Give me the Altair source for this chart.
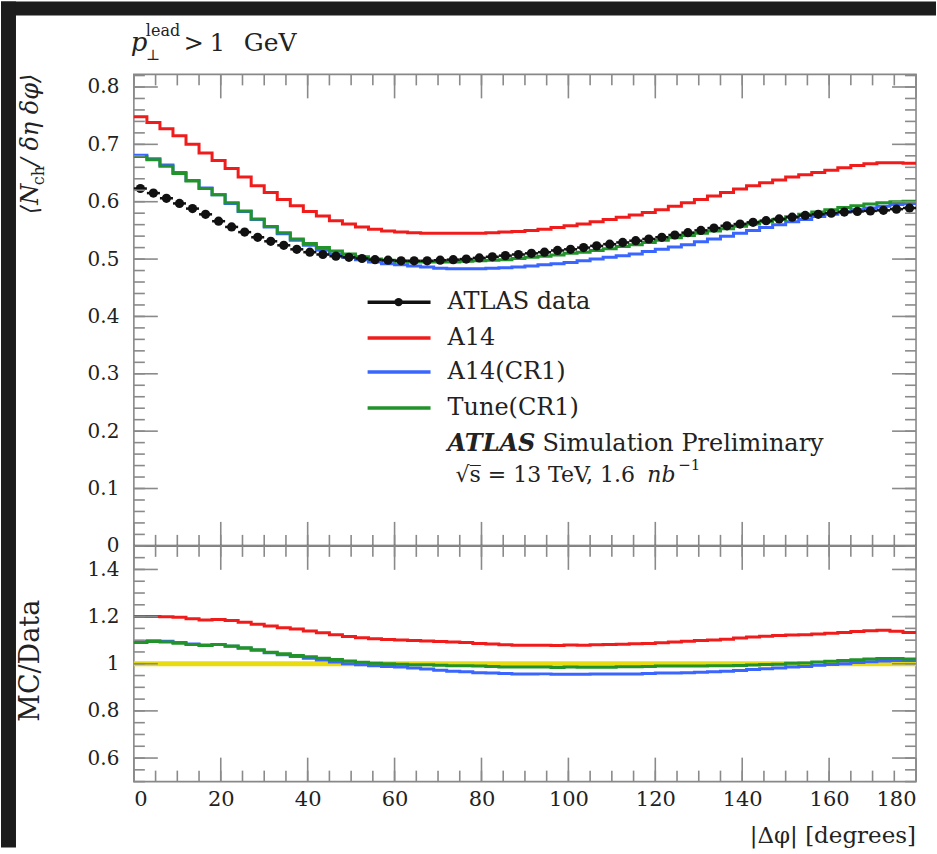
import altair as alt
import pandas as pd

# ---------------- data ----------------
bin_edges = list(range(0, 181, 3))          # 60 bins of 3 degrees

atlas_data = [0.623, 0.615, 0.606, 0.597, 0.588, 0.578, 0.566, 0.556, 0.547, 0.538,
              0.531, 0.524, 0.517, 0.512, 0.508, 0.505, 0.503, 0.501, 0.499, 0.498,
              0.497, 0.497, 0.497, 0.498, 0.499, 0.500, 0.502, 0.504, 0.506, 0.508,
              0.510, 0.512, 0.515, 0.517, 0.520, 0.523, 0.526, 0.529, 0.532, 0.535,
              0.538, 0.542, 0.546, 0.550, 0.554, 0.558, 0.561, 0.564, 0.567, 0.570,
              0.573, 0.576, 0.578, 0.580, 0.582, 0.583, 0.584, 0.585, 0.587, 0.589]

a14 = [0.748, 0.738, 0.727, 0.715, 0.700, 0.685, 0.672, 0.658, 0.643, 0.628,
       0.616, 0.604, 0.593, 0.583, 0.575, 0.567, 0.561, 0.556, 0.552, 0.549,
       0.547, 0.546, 0.545, 0.545, 0.545, 0.545, 0.545, 0.546, 0.547, 0.548,
       0.550, 0.552, 0.555, 0.558, 0.561, 0.565, 0.569, 0.573, 0.577, 0.581,
       0.586, 0.592, 0.598, 0.604, 0.610, 0.616, 0.622, 0.628, 0.633, 0.638,
       0.643, 0.647, 0.651, 0.655, 0.659, 0.663, 0.666, 0.668, 0.668, 0.667]

a14_cr1 = [0.681, 0.675, 0.664, 0.651, 0.637, 0.624, 0.612, 0.597, 0.583, 0.569,
           0.556, 0.544, 0.533, 0.524, 0.516, 0.509, 0.503, 0.499, 0.495, 0.492,
           0.490, 0.488, 0.486, 0.484, 0.483, 0.483, 0.483, 0.484, 0.485, 0.486,
           0.488, 0.490, 0.492, 0.494, 0.497, 0.500, 0.503, 0.506, 0.509, 0.513,
           0.517, 0.521, 0.525, 0.530, 0.535, 0.540, 0.545, 0.550, 0.555, 0.560,
           0.565, 0.569, 0.574, 0.578, 0.582, 0.586, 0.589, 0.592, 0.595, 0.597]

tune_cr1 = [0.679, 0.673, 0.662, 0.649, 0.636, 0.623, 0.612, 0.598, 0.584, 0.570,
            0.557, 0.546, 0.535, 0.527, 0.520, 0.514, 0.509, 0.504, 0.500, 0.498,
            0.496, 0.495, 0.495, 0.495, 0.495, 0.496, 0.497, 0.498, 0.499, 0.501,
            0.503, 0.505, 0.507, 0.510, 0.512, 0.515, 0.518, 0.522, 0.525, 0.529,
            0.533, 0.537, 0.541, 0.545, 0.549, 0.553, 0.557, 0.561, 0.565, 0.569,
            0.574, 0.578, 0.582, 0.586, 0.590, 0.593, 0.596, 0.598, 0.600, 0.601]

series_names = ["ATLAS data", "A14", "A14(CR1)", "Tune(CR1)"]
mc_series = {"A14": a14, "A14(CR1)": a14_cr1, "Tune(CR1)": tune_cr1}

x_major = list(range(0, 181, 20))
x_minor = list(range(0, 181, 5))
main_y_major = [0.0, 0.1, 0.2, 0.3, 0.4, 0.5, 0.6, 0.7, 0.8]
main_y_minor = [round(0.02 * i, 2) for i in range(42)]
ratio_y_major = [0.6, 0.8, 1.0, 1.2, 1.4]
ratio_y_minor = [round(0.5 + 0.05 * i, 2) for i in range(21)]

# ---------------- style ----------------
SERIF = "DejaVu Serif"
COLORS = {"A14": "#f01c1c", "A14(CR1)": "#3a66ff", "Tune(CR1)": "#22922a"}
BAND = "#e8dc10"
TICK = "#8a8a8a"
TXT = "#222222"
DARK = "#1c1c1c"
W, HM, HR = 783, 472, 236
MAJ, MIN = 24, 11

lo = bin_edges[:-1]
hi = bin_edges[1:]
mid = [(a + b) / 2 for a, b in zip(lo, hi)]

xs = alt.Scale(domain=[0, 180], nice=False, zero=False)
ys_main = alt.Scale(domain=[0, 0.822], nice=False, zero=False)
ys_ratio = alt.Scale(domain=[0.5, 1.5], nice=False, zero=False)

AX_MAIN_Y = alt.Axis(values=main_y_major, format=".1~f", ticks=False, domain=False, grid=False,
                     labelFont=SERIF, labelFontSize=20, labelColor=TXT, labelPadding=15,
                     title=None, zindex=1)
AX_RATIO_Y = alt.Axis(values=ratio_y_major, format=".1~f", ticks=False, domain=False, grid=False,
                      labelFont=SERIF, labelFontSize=20, labelColor=TXT, labelPadding=15,
                      title=None, zindex=1)
AX_RATIO_X = alt.Axis(values=x_major, format="d", ticks=False, domain=False, grid=False,
                      labelFont=SERIF, labelFontSize=21, labelColor=TXT, labelPadding=7,
                      title=None, zindex=1)

one = pd.DataFrame({"k": [0]})


def txt(text, x, y, size=24, style="normal", weight="normal", align="left",
        baseline="alphabetic", angle=None):
    kw = dict(text=text, font=SERIF, fontSize=size, fontStyle=style, fontWeight=weight,
              align=align, baseline=baseline, color=TXT)
    if angle is not None:
        kw["angle"] = angle
    return alt.Chart(one).mark_text(**kw).encode(x=alt.value(x), y=alt.value(y))


def step_df(vals):
    return pd.DataFrame({"x": lo + [180], "y": list(vals) + [vals[-1]]})


def x_tick_layers(h, xaxis):
    out = []
    for vals, L in ((x_major, MAJ), (x_minor, MIN)):
        df = pd.DataFrame({"v": vals})
        for y0, y1 in ((h, h - L), (0, L)):
            out.append(alt.Chart(df).mark_rule(color=TICK, strokeWidth=1.6).encode(
                x=alt.X("v:Q", scale=xs, axis=xaxis), y=alt.value(y0), y2=alt.value(y1)))
    return out


def y_tick_layers(major, minor, ys, yaxis):
    out = []
    for vals, L in ((major, MAJ), (minor, MIN)):
        df = pd.DataFrame({"v": vals})
        for x0, x1 in ((0, L), (W, W - L)):
            out.append(alt.Chart(df).mark_rule(color=TICK, strokeWidth=1.6).encode(
                y=alt.Y("v:Q", scale=ys, axis=yaxis), x=alt.value(x0), x2=alt.value(x1)))
    return out


# ---------------- main panel ----------------
main_layers = []
# dark screenshot frame (top and left)
main_layers.append(alt.Chart(one).mark_rect(color=DARK).encode(
    x=alt.value(-133), x2=alt.value(936 - 133), y=alt.value(-73), y2=alt.value(14 - 73)))
main_layers.append(alt.Chart(one).mark_rect(color=DARK).encode(
    x=alt.value(-133), x2=alt.value(15 - 133), y=alt.value(-73), y2=alt.value(847 - 73)))

for name in ["A14", "A14(CR1)", "Tune(CR1)"]:
    main_layers.append(alt.Chart(step_df(mc_series[name])).mark_line(
        interpolate="step-after", color=COLORS[name], strokeWidth=3).encode(
        x=alt.X("x:Q", scale=xs, axis=None),
        y=alt.Y("y:Q", scale=ys_main, axis=AX_MAIN_Y)))

data_df = pd.DataFrame({"lo": lo, "hi": hi, "mid": mid, "y": atlas_data})
main_layers.append(alt.Chart(data_df).mark_rule(color="#111111", strokeWidth=2.5).encode(
    x=alt.X("lo:Q", scale=xs, axis=None), x2="hi:Q",
    y=alt.Y("y:Q", scale=ys_main, axis=AX_MAIN_Y)))
main_layers.append(alt.Chart(data_df).mark_circle(color="#111111", size=85, opacity=1).encode(
    x=alt.X("mid:Q", scale=xs, axis=None),
    y=alt.Y("y:Q", scale=ys_main, axis=AX_MAIN_Y)))

main_layers += x_tick_layers(HM, None)
main_layers += y_tick_layers(main_y_major, main_y_minor, ys_main, AX_MAIN_Y)
main_layers.append(alt.Chart(one).mark_rule(color="#555555", strokeWidth=2).encode(
    x=alt.value(0), x2=alt.value(W), y=alt.value(HM)))

# legend
rows_y = [228, 264, 298, 334]
for name, ry in zip(series_names, rows_y):
    col = "#111111" if name == "ATLAS data" else COLORS[name]
    main_layers.append(alt.Chart(one).mark_rule(color=col, strokeWidth=3.5).encode(
        x=alt.value(234), x2=alt.value(297), y=alt.value(ry)))
    if name == "ATLAS data":
        main_layers.append(alt.Chart(one).mark_circle(color="#111111", size=70, opacity=1).encode(
            x=alt.value(265), y=alt.value(ry)))
    main_layers.append(txt(name, 314, ry, size=24, baseline="middle"))

main_layers.append(txt("ATLAS", 314, 370, size=24, style="italic", weight="bold", baseline="middle"))
main_layers.append(txt("Simulation Preliminary", 409, 370, size=24, baseline="middle"))
main_layers.append(txt("\u221as\u0305 = 13 TeV, 1.6", 322, 408, size=22))
main_layers.append(txt("nb", 514, 408, size=22, style="italic"))
main_layers.append(txt("\u22121", 545, 396, size=15))

# top label  p_perp^lead > 1 GeV
main_layers.append(txt("p", -3, -23, size=26, style="italic"))
main_layers.append(txt("\u22a5", 12, -14, size=15))
main_layers.append(txt("lead", 12, -38, size=16))
main_layers.append(txt(">", 50, -23, size=24))
main_layers.append(txt("1", 76, -23, size=24))
main_layers.append(txt("GeV", 110, -23, size=25))

# y title  <N_ch / d eta d phi>
main_layers.append(txt("\u27e8N", -103, 213 - 73, size=24, style="italic", baseline="middle", angle=270))
main_layers.append(txt("ch", -95, 184 - 73, size=16, baseline="middle", angle=270))
main_layers.append(txt(" / \u03b4\u03b7 \u03b4\u03c6\u27e9", -103, 165 - 73, size=24, style="italic",
                       baseline="middle", angle=270))

main = alt.layer(*main_layers).properties(width=W, height=HM)

# ---------------- ratio panel ----------------
ratio_layers = []
ratio_layers.append(alt.Chart(step_df([d / d for d in atlas_data])).mark_line(
    interpolate="step-after", color=BAND, strokeWidth=5).encode(
    x=alt.X("x:Q", scale=xs, axis=AX_RATIO_X),
    y=alt.Y("y:Q", scale=ys_ratio, axis=AX_RATIO_Y)))
for name in ["A14", "A14(CR1)", "Tune(CR1)"]:
    r = [m / d for m, d in zip(mc_series[name], atlas_data)]
    ratio_layers.append(alt.Chart(step_df(r)).mark_line(
        interpolate="step-after", color=COLORS[name], strokeWidth=3).encode(
        x=alt.X("x:Q", scale=xs, axis=AX_RATIO_X),
        y=alt.Y("y:Q", scale=ys_ratio, axis=AX_RATIO_Y)))

ratio_layers += x_tick_layers(HR, AX_RATIO_X)
ratio_layers += y_tick_layers(ratio_y_major, ratio_y_minor, ys_ratio, AX_RATIO_Y)

ratio_layers.append(txt("MC/Data", -103, 660 - 545, size=27, align="center",
                        baseline="middle", angle=270))
ratio_layers.append(txt("|\u0394\u03c6| [degrees]", W, 842 - 545, size=23, align="right"))

ratio = alt.layer(*ratio_layers).properties(width=W, height=HR)

chart = alt.vconcat(main, ratio, spacing=0, bounds="flush").properties(
    padding=0, background="white"
).configure_view(stroke="#888888", strokeWidth=1.6)

chart.save("out.html", embed_options={"renderer": "svg", "actions": False})
